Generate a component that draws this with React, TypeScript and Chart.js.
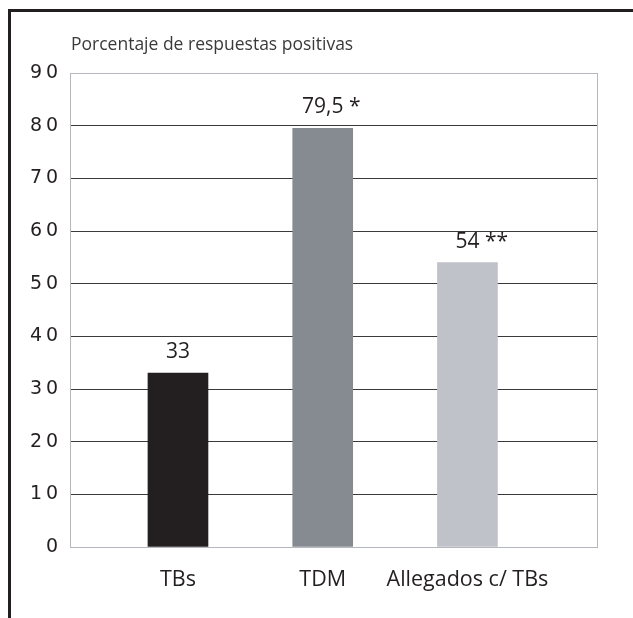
import React, { useEffect, useRef } from "react";
import { Chart, registerables } from "chart.js";

Chart.register(...registerables);

const categories = ["TBs", "TDM", "Allegados c/ TBs"];
const values = [33, 79.5, 54];
const significance = ["", "*", "**"];
const barColors = ["#231f20", "#868b92", "#bfc2c8"];
const yMin = 0;
const yMax = 90;
const yStep = 10;
const title = "Porcentaje de respuestas positivas";

const INK = "#231f20";
const FRAME_GREY = "#b4b8be";

export default function App() {
  const ref = useRef<HTMLCanvasElement | null>(null);

  useEffect(() => {
    const canvas = ref.current;
    if (!canvas) return;

    const framePlugin = {
      id: "frame",
      beforeDraw(chart: any) {
        const ctx = chart.ctx;
        ctx.save();
        ctx.fillStyle = "#ffffff";
        ctx.fillRect(0, 0, chart.width, chart.height);
        ctx.fillStyle = INK;
        ctx.fillRect(8, 9, chart.width - 8, 3);
        ctx.fillRect(8, 9, 3, chart.height - 9);
        // title
        ctx.fillStyle = "#3a3a3a";
        ctx.font = '17.5px "Open Sans"';
        ctx.textAlign = "left";
        ctx.textBaseline = "alphabetic";
        ctx.fillText(title, chart.chartArea.left + 1, 50);
        ctx.restore();
      },
      beforeDatasetsDraw(chart: any) {
        const { left, right, top, bottom } = chart.chartArea;
        const ctx = chart.ctx;
        ctx.save();
        ctx.strokeStyle = FRAME_GREY;
        ctx.lineWidth = 1;
        ctx.beginPath();
        ctx.moveTo(left + 0.5, top);
        ctx.lineTo(left + 0.5, bottom + 1);
        ctx.moveTo(right - 0.5, top);
        ctx.lineTo(right - 0.5, bottom + 1);
        ctx.stroke();
        ctx.restore();
      },
      afterDatasetsDraw(chart: any) {
        const ctx = chart.ctx;
        const meta = chart.getDatasetMeta(0);
        ctx.save();
        ctx.fillStyle = INK;
        ctx.font = '21px "Open Sans"';
        ctx.textAlign = "left";
        ctx.textBaseline = "alphabetic";
        meta.data.forEach((bar: any, i: number) => {
          const num = String(values[i]).replace(".", ",");
          const w = ctx.measureText(num).width;
          const text = significance[i] ? num + " " + significance[i] : num;
          ctx.fillText(text, bar.x - w / 2, bar.y - 15);
        });
        ctx.restore();
      },
    };

    const chart = new Chart(canvas, {
      type: "bar",
      data: {
        datasets: [
          {
            data: values.map((v, i) => ({ x: i, y: v })),
            backgroundColor: barColors,
            borderWidth: 0,
            barThickness: 60,
          },
        ],
      },
      options: {
        responsive: false,
        animation: false,
        layout: { padding: { top: 73, right: 35, bottom: 0, left: 0 } },
        plugins: {
          legend: { display: false },
          tooltip: { enabled: false },
          title: { display: false },
        },
        scales: {
          x: {
            type: "linear",
            offset: false,
            min: -0.746,
            max: 2.902,
            grid: { display: false, offset: false },
            border: { display: false },
            afterBuildTicks: (scale: any) => {
              scale.ticks = categories.map((_, i) => ({ value: i }));
            },
            afterFit: (scale: any) => {
              scale.height = 71;
            },
            ticks: {
              autoSkip: false,
              maxRotation: 0,
              padding: 12,
              color: INK,
              font: { family: '"Open Sans"', size: 21.5 },
              callback: (v: any) => categories[Math.round(Number(v))] ?? "",
            },
          },
          y: {
            min: yMin,
            max: yMax,
            grid: {
              drawTicks: false,
              lineWidth: 1,
              color: (c: any) =>
                c.tick && (c.tick.value === yMin || c.tick.value === yMax)
                  ? FRAME_GREY
                  : "#3a3a3a",
            },
            border: { display: false },
            afterFit: (scale: any) => {
              scale.width = 70;
            },
            ticks: {
              stepSize: yStep,
              padding: 12,
              color: INK,
              font: { family: '"DejaVu Sans"', size: 19 },
              callback: (v: any) => String(v).split("").join("\u2009"),
            },
          },
        },
      },
      plugins: [framePlugin],
    });

    return () => chart.destroy();
  }, []);

  return (
    <div style={{ position: "fixed", left: 0, top: 0, width: 633, height: 618, background: "#fff" }}>
      <canvas ref={ref} width={633} height={618} style={{ width: 633, height: 618, display: "block" }} />
    </div>
  );
}
